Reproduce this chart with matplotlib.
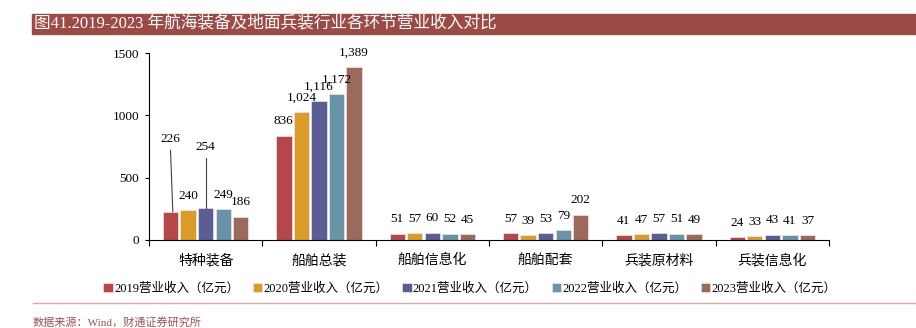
import numpy as np
import matplotlib
matplotlib.use('Agg')
import matplotlib.pyplot as plt
from matplotlib.patches import Rectangle
from matplotlib.lines import Line2D

plt.rcParams['font.family'] = ['Liberation Serif', 'Noto Sans CJK SC', 'DejaVu Sans']

CATEGORIES = ['特种装备', '船舶总装', '船舶信息化', '船舶配套', '兵装原材料', '兵装信息化']
YEARS = ['2019', '2020', '2021', '2022', '2023']
REV_2019 = [226, 836, 51, 57, 41, 24]
REV_2020 = [240, 1024, 57, 39, 47, 33]
REV_2021 = [254, 1116, 60, 53, 57, 43]
REV_2022 = [249, 1172, 52, 79, 51, 41]
REV_2023 = [186, 1389, 45, 202, 49, 37]
SERIES = [REV_2019, REV_2020, REV_2021, REV_2022, REV_2023]

COLORS = ['#B5474A', '#DA9C27', '#5A5E94', '#6894A8', '#9C6A5B']
TITLE_BG = '#9C4A45'

# labels lifted with a leader line: (series index, category index) -> label y
LIFTED = {(0, 0): 740, (2, 0): 675}

fig = plt.figure(figsize=(9.16, 3.28), dpi=100)

# --- title banner ------------------------------------------------------------
fig.patches.append(Rectangle((32 / 916, 1 - 34 / 328), 1 - 32 / 916, 20 / 328,
                             transform=fig.transFigure, color=TITLE_BG, zorder=0))
fig.text(34 / 916, 1 - 24 / 328, '图41.2019-2023 年航海装备及地面兵装行业各环节营业收入对比',
         color='white', fontsize=12, va='center', ha='left')

# --- bars --------------------------------------------------------------------
ax = fig.add_axes([149 / 916, 1 - 240 / 328, (829 - 149) / 916, (240 - 53) / 328])
x = np.arange(len(CATEGORIES))
pitch = 0.155
width = 0.135
for i, (vals, year) in enumerate(zip(SERIES, YEARS)):
    xs = x + (i - 2) * pitch
    ax.bar(xs, vals, width, color=COLORS[i], edgecolor='#f0e6e6', linewidth=0.5,
           label=f'{year}营业收入（亿元）', zorder=2)
    for j, v in enumerate(vals):
        txt = f'{v:,}'
        if (i, j) in LIFTED:
            ly = LIFTED[(i, j)]
            ax.annotate(txt, (xs[j], ly), ha='center', va='bottom', fontsize=9.5,
                        xytext=(0, 2), textcoords='offset points')
            ax.plot([xs[j], xs[j] + 0.02 * (1 if i == 0 else 0)], [ly - 20, v],
                    color='#444444', linewidth=0.8, zorder=3)
        else:
            ax.annotate(txt, (xs[j], v), ha='center', va='bottom', fontsize=9.5,
                        xytext=(0, 6), textcoords='offset points')

ax.set_xlim(-0.5, len(CATEGORIES) - 0.5)
ax.set_ylim(0, 1500)
ax.set_yticks([0, 500, 1000, 1500])
ax.set_xticks(np.arange(len(CATEGORIES) + 1) - 0.5, minor=False)
ax.set_xticklabels([])
ax.set_xticks(x, minor=True)
ax.set_xticklabels(CATEGORIES, minor=True, fontsize=10)
ax.tick_params(axis='x', which='minor', length=0, pad=10)
ax.tick_params(axis='x', which='major', length=4, direction='out', width=0.8)
ax.tick_params(axis='y', length=3, direction='out', width=0.8, labelsize=9.5, pad=4)
for s in ['top', 'right']:
    ax.spines[s].set_visible(False)
ax.spines['left'].set_linewidth(0.8)
ax.spines['bottom'].set_linewidth(0.8)

# --- legend ------------------------------------------------------------------
handles, labels = ax.get_legend_handles_labels()
fig.legend(handles, labels, loc='center', bbox_to_anchor=(470 / 916, 1 - 289 / 328),
           ncol=5, frameon=False, fontsize=9, handlelength=0.75, handleheight=0.75,
           handletextpad=0.1, columnspacing=1.1)

# --- footer ------------------------------------------------------------------
fig.lines.append(Line2D([33 / 916, 1], [1 - 303 / 328] * 2, transform=fig.transFigure,
                        color='#D8A9A8', linewidth=1))
fig.text(33 / 916, 1 - 322 / 328, '数据来源：Wind，财通证券研究所', color='#A0524D',
         fontsize=8, va='center', ha='left')

fig.savefig('out.png', dpi=100)
